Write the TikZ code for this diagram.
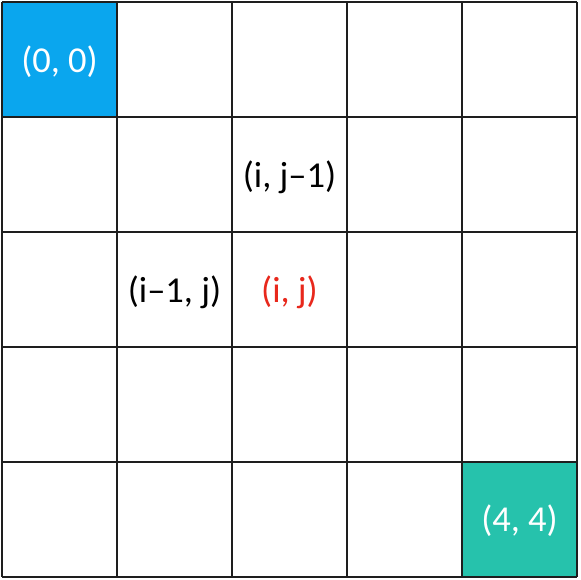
\documentclass[tikz,border=0pt]{standalone}
\usepackage{fontspec}
\setmainfont{Carlito}
\definecolor{cellblue}{RGB}{10,166,238}
\definecolor{cellteal}{RGB}{38,194,172}
\definecolor{txtred}{RGB}{232,40,28}
\definecolor{gridline}{RGB}{30,30,30}
\begin{document}
\begin{tikzpicture}[x=1pt,y=-1pt,
  gridstyle/.style={draw=gridline,line width=2.2pt},
  lbl/.style={font=\fontsize{36.5}{44}\selectfont,inner sep=0pt,anchor=center}]
\useasboundingbox (0,0) rectangle (580,580);
\fill[white] (0,0) rectangle (580,580);
\fill[cellblue] (2,2) rectangle (117,117);
\fill[cellteal] (462,462) rectangle (577,577);
\foreach \k in {0,...,5} {
  \draw[gridstyle] ({2+115*\k},2) -- ({2+115*\k},577);
  \draw[gridstyle] (2,{2+115*\k}) -- (577,{2+115*\k});
}
\node[lbl,text=white] (n00) at (59.5,62) {(0, 0)};
\node[lbl] (nij1) at (289.5,177) {(i, j–1)};
\node[lbl] (ni1j) at (174.5,292) {(i–1, j)};
\node[lbl,text=txtred] (nij) at (289.5,292) {(i, j)};
\node[lbl,text=white] (n44) at (519.5,521) {(4, 4)};
\end{tikzpicture}
\end{document}
